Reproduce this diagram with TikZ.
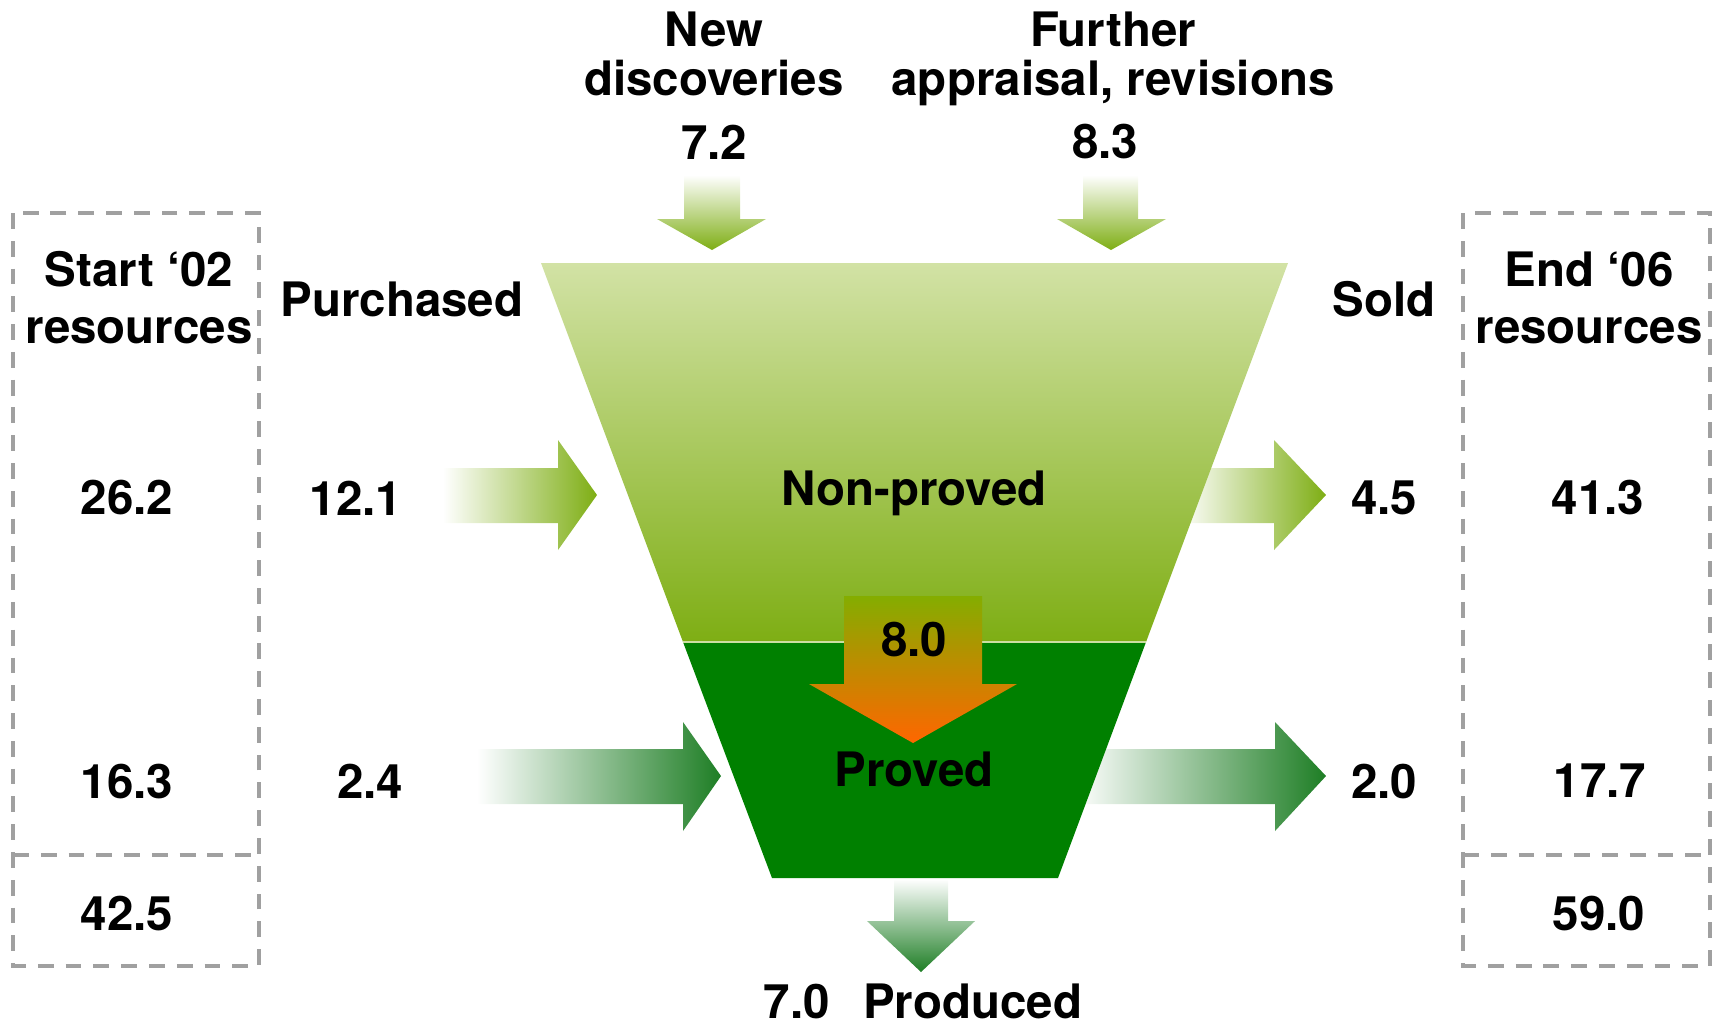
\documentclass[tikz,border=0pt]{standalone}
\usepackage{fontspec}
\setmainfont{TeX Gyre Heros}
\usepackage{xcolor}
\usepackage{tikz}
\usetikzlibrary{positioning}

\definecolor{paleGreen}{HTML}{D2E2A5}
\definecolor{oliveGreen}{HTML}{7EAE14}
\definecolor{provedGreen}{HTML}{008000}
\definecolor{darkGreen}{HTML}{1E7E25}
\definecolor{flowOrange}{HTML}{FF6600}
\definecolor{reclassTop}{HTML}{84AD00}
\definecolor{boxGray}{HTML}{A0A0A0}

\begin{document}
\begin{tikzpicture}[
  x=0.01cm, y=-0.01cm,
  lbl/.style={font=\fontsize{13.5}{16.2}\selectfont\bfseries, align=center, inner sep=0pt},
  toplbl/.style={font=\fontsize{13.5}{14}\selectfont\bfseries, align=center, inner sep=0pt, anchor=north},
  dashbox/.style={draw=boxGray, line width=1.1pt, dash pattern=on 4.5pt off 3.4pt},
]
\useasboundingbox (0,0) rectangle (1716,1023);

% resource boxes
\draw[dashbox] (13,213) rectangle (259,966);
\draw[dashbox] (13,855) -- (259,855);
\draw[dashbox] (1463,213) rectangle (1710,966);
\draw[dashbox] (1463,855) -- (1710,855);

% purchased, into the funnel
\shade[left color=white, right color=oliveGreen]
  (443,468) -- (558,468) -- (558,440) -- (597,495) -- (558,550) -- (558,523) -- (443,523) -- cycle;
\shade[left color=white, right color=darkGreen]
  (477,749) -- (683,749) -- (683,722) -- (721,776) -- (683,831) -- (683,804) -- (477,804) -- cycle;

% sold, out of the funnel (starts behind it)
\shade[left color=white, right color=oliveGreen]
  (1180,468) -- (1274,468) -- (1274,440) -- (1326,495) -- (1274,550) -- (1274,523) -- (1180,523) -- cycle;
\shade[left color=white, right color=darkGreen]
  (1075,749) -- (1275,749) -- (1275,722) -- (1326,776) -- (1275,831) -- (1275,804) -- (1075,804) -- cycle;

% funnel
\shade[top color=paleGreen, bottom color=oliveGreen]
  (541,263) -- (1288,263) -- (1146,642) -- (683,642) -- cycle;
\fill[provedGreen] (683,642) -- (1146,642) -- (1058,878) -- (772,878) -- cycle;
\draw[white!60!oliveGreen, line width=0.4pt] (683,642) -- (1146,642);

% additions from the top
\shade[top color=white, bottom color=oliveGreen]
  (684,175) -- (740,175) -- (740,219) -- (766,219) -- (712,250) -- (657,219) -- (684,219) -- cycle;
\shade[top color=white, bottom color=oliveGreen]
  (1083,175) -- (1138,175) -- (1138,219) -- (1166,219) -- (1111,250) -- (1057,219) -- (1083,219) -- cycle;

% production
\shade[top color=white, bottom color=darkGreen]
  (894,879) -- (948,879) -- (948,921) -- (975,921) -- (921,972) -- (867,921) -- (894,921) -- cycle;

% non-proved to proved
\shade[top color=reclassTop, bottom color=flowOrange]
  (844,596) -- (982,596) -- (982,684) -- (1017,684) -- (913,743) -- (809,684) -- (844,684) -- cycle;

% labels
\node[lbl] (startHead) at (139,298) {Start ‘02\\resources};
\node[lbl] (startNP) at (127,498) {26.2};
\node[lbl] (startP) at (127,781) {16.3};
\node[lbl] (startTotal) at (127,913) {42.5};

\node[lbl] (purchHead) at (402,299) {Purchased};
\node[lbl] (purchNP) at (356,498) {12.1};
\node[lbl] (purchP) at (370,781) {2.4};

\node[toplbl] (newHead) at (714,11) {New\\discoveries};
\node[lbl] (newVal) at (714,142) {7.2};
\node[toplbl] (furtherHead) at (1113,11) {Further\\appraisal, revisions};
\node[lbl] (furtherVal) at (1105,142) {8.3};

\node[lbl] (nonproved) at (914,493) {Non-proved};
\node[lbl] (reclass) at (914,640) {8.0};
\node[lbl] (proved) at (914,769) {Proved};
\node[lbl] (produced) at (923,1001) {7.0\hspace{0.7em}Produced};

\node[lbl] (soldHead) at (1384,299) {Sold};
\node[lbl] (soldNP) at (1384,498) {4.5};
\node[lbl] (soldP) at (1384,781) {2.0};

\node[lbl] (endHead) at (1589,298) {End ‘06\\resources};
\node[lbl] (endNP) at (1598,498) {41.3};
\node[lbl] (endP) at (1600,781) {17.7};
\node[lbl] (endTotal) at (1599,913) {59.0};
\end{tikzpicture}
\end{document}
